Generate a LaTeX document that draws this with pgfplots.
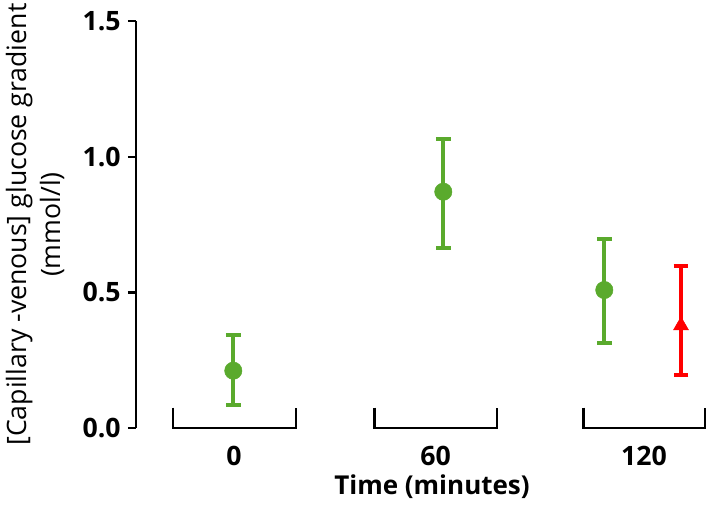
\documentclass[border=0pt]{standalone}
\usepackage{pgfplots}
\pgfplotsset{compat=1.18}
\usepackage{fontspec}
\setmainfont{Open Sans}
\definecolor{grn}{RGB}{90,170,45}
\begin{document}
\begin{tikzpicture}
\begin{axis}[
  at={(0,0)}, anchor=south west,
  scale only axis,
  width=429.75pt, height=305.5pt,
  xmin=136, xmax=709, ymin=0, ymax=1.5,
  axis x line*=bottom,
  x axis line style={draw=none},
  axis y line=left,
  y axis line style={-, line width=1.8pt, black},
  clip=false,
  tick align=outside,
  ytick={0,0.5,1.0,1.5},
  yticklabels={0.0,0.5,1.0,1.5},
  major tick length=6pt,
  ytick style={line width=1.8pt, black},
  xtick style={draw=none},
  /pgf/number format/assume math mode=true,
  yticklabel style={font=\bfseries\fontsize{20}{22}\selectfont, xshift=-2pt},
  xtick={234,435.5,644},
  xticklabels={0,60,120},
  xticklabel style={font=\bfseries\fontsize{20}{22}\selectfont, anchor=base, yshift=-22.25pt},
  xlabel={\bfseries Time (minutes)},
  xlabel style={font=\fontsize{19.5}{22}\selectfont, at={(axis description cs:0.5166,0)}, anchor=base, yshift=-50pt},
  ylabel={[Capillary -venous] glucose gradient\\(mmol/l)},
  ylabel style={font=\fontsize{20}{25.5}\selectfont, align=center, at={(axis description cs:-0.176,0.5)}, anchor=center},
]
% brackets
\addplot[black, line width=1.8pt, no marks] coordinates {(173.3,0.076) (173.3,0) (296,0) (296,0.076)};
\addplot[black, line width=1.8pt, no marks] coordinates {(374.3,0.076) (374.3,0) (496.7,0) (496.7,0.076)};
\addplot[black, line width=1.8pt, no marks] coordinates {(583.3,0.076) (583.3,0) (705,0) (705,0.076)};
% green series
\addplot[grn, only marks, mark=*, mark size=6.5pt,
  error bars/.cd, y dir=both, y explicit,
  error bar style={line width=3pt, grn},
  error mark options={rotate=90, mark size=5.6pt, line width=3pt, grn}]
  coordinates {
  (233.3,0.212) += (0,0.132) -= (0,0.126)
  (443.3,0.871) += (0,0.195) -= (0,0.206)
  (604.3,0.509) += (0,0.187) -= (0,0.194)
  };
% red series
\addplot[red, only marks, mark=triangle*, mark size=6.5pt,
  error bars/.cd, y dir=both, y explicit,
  error bar style={line width=3pt, red},
  error mark options={rotate=90, mark size=5.6pt, line width=3pt, red}]
  coordinates {
  (681,0.378) += (0,0.221) -= (0,0.182)
  };
\end{axis}
\pgfresetboundingbox
\useasboundingbox (-102pt,-60.5pt) rectangle (429.75pt,321.2pt);
\end{tikzpicture}
\end{document}
